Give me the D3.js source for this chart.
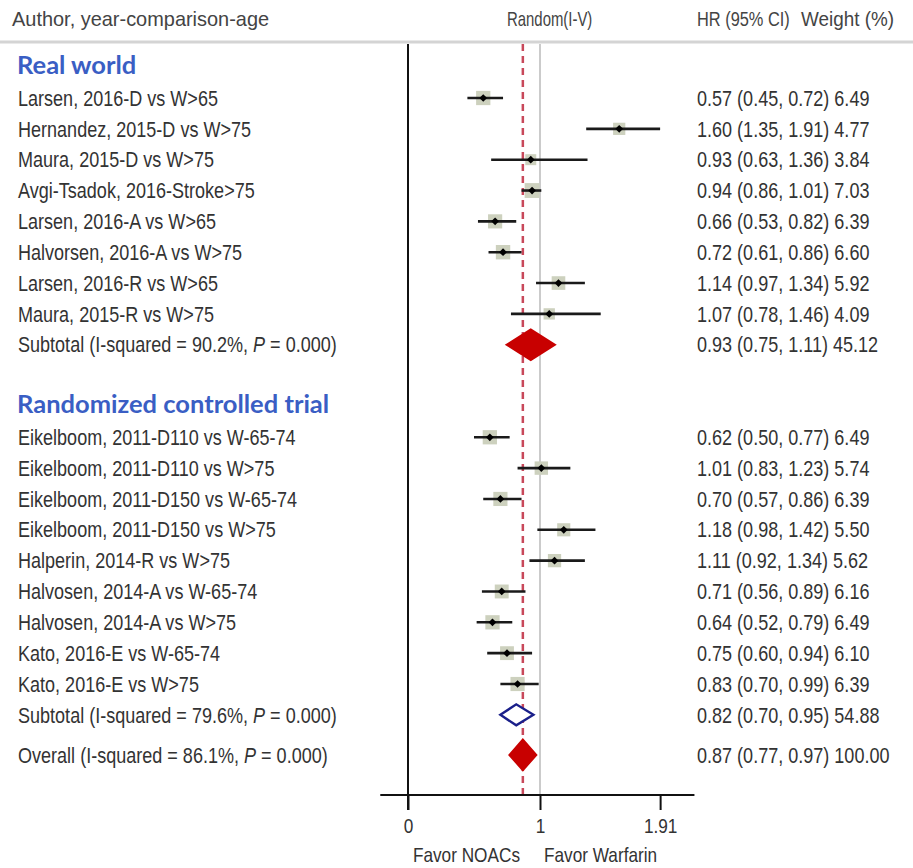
<!DOCTYPE html>
<html>
<head>
<meta charset="utf-8">
<script src="https://cdn.jsdelivr.net/npm/d3@7"></script>
<style>
  body { margin: 0; background: #fff; }
  text { font-family: "Liberation Sans", Arial, sans-serif; fill: #333; }
  .group-title { font-family: Lato, "Open Sans", sans-serif; font-weight: bold; fill: #3a5ec4; }
</style>
</head>
<body>
<div id="chart-area"></div>
<script>
// real world studies
const rwLabels = ['Larsen, 2016-D vs W>65', 'Hernandez, 2015-D vs W>75', 'Maura, 2015-D vs W>75',
  'Avgi-Tsadok, 2016-Stroke>75', 'Larsen, 2016-A vs W>65', 'Halvorsen, 2016-A vs W>75',
  'Larsen, 2016-R vs W>65', 'Maura, 2015-R vs W>75']
const rwHR = [0.57, 1.60, 0.93, 0.94, 0.66, 0.72, 1.14, 1.07]
const rwLow = [0.45, 1.35, 0.63, 0.86, 0.53, 0.61, 0.97, 0.78]
const rwHigh = [0.72, 1.91, 1.36, 1.01, 0.82, 0.86, 1.34, 1.46]
const rwWeight = [6.49, 4.77, 3.84, 7.03, 6.39, 6.60, 5.92, 4.09]

// randomized controlled trials
const rctLabels = ['Eikelboom, 2011-D110 vs W-65-74', 'Eikelboom, 2011-D110 vs W>75',
  'Eikelboom, 2011-D150 vs W-65-74', 'Eikelboom, 2011-D150 vs W>75', 'Halperin, 2014-R vs W>75',
  'Halvosen, 2014-A vs W-65-74', 'Halvosen, 2014-A vs W>75', 'Kato, 2016-E vs W-65-74', 'Kato, 2016-E vs W>75']
const rctHR = [0.62, 1.01, 0.70, 1.18, 1.11, 0.71, 0.64, 0.75, 0.83]
const rctLow = [0.50, 0.83, 0.57, 0.98, 0.92, 0.56, 0.52, 0.60, 0.70]
const rctHigh = [0.77, 1.23, 0.86, 1.42, 1.34, 0.89, 0.79, 0.94, 0.99]
const rctWeight = [6.49, 5.74, 6.39, 5.50, 5.62, 6.16, 6.49, 6.10, 6.39]

// pooled estimates: real world subtotal, rct subtotal, overall
const pooledNames = ['Subtotal', 'Subtotal', 'Overall']
const pooledISq = ['90.2%', '79.6%', '86.1%']
const pooledHR = [0.93, 0.82, 0.87]
const pooledLow = [0.75, 0.70, 0.77]
const pooledHigh = [1.11, 0.95, 0.97]
const pooledWeight = ['45.12', '54.88', '100.00']

const groupTitles = ['Real world', 'Randomized controlled trial']
const headers = ['Author, year-comparison-age', 'Random(I-V)', 'HR (95% CI)', 'Weight (%)']
const xTicks = [0, 1, 1.91]
const axisExtent = [-0.21, 2.17]
const overallHR = 0.87

const width = 913, height = 868
const squeeze = 0.82 // narrow font look

let svg = d3.select('#chart-area')
  .append('svg')
  .attr('width', width)
  .attr('height', height)

let x = d3.scaleLinear()
  .domain([0, 1])
  .range([408, 540])

// row index -> y
let y = d3.scaleLinear()
  .domain([1, 20])
  .range([98, 684])

const fmt = d3.format('.2f')
const narrow = (px, py, k) => 'translate(' + px + ',' + py + ') scale(' + (k || squeeze) + ',1)'

// build rows
let studies = []
rwLabels.forEach((l, i) => studies.push({label: l, hr: rwHR[i], lo: rwLow[i], hi: rwHigh[i], w: rwWeight[i], row: 1 + i}))
rctLabels.forEach((l, i) => studies.push({label: l, hr: rctHR[i], lo: rctLow[i], hi: rctHigh[i], w: rctWeight[i], row: 12 + i}))

const pooledRows = [9, 21, 22.3]
const pooledHalf = [15, 10.5, 15]
let pooled = pooledNames.map((n, i) => ({
  name: n, isq: pooledISq[i], hr: pooledHR[i], lo: pooledLow[i], hi: pooledHigh[i],
  w: pooledWeight[i], row: pooledRows[i], half: pooledHalf[i],
  fill: i === 1 ? '#fff' : '#c80000', stroke: i === 1 ? '#1a1f8a' : '#c80000'
}))

// header
const headerX = [12, 507, 697, 801]
const headerK = [0.95, 0.71, 0.78, 0.9]
svg.selectAll('.header')
  .data(headers)
  .enter().append('text')
  .attr('class', 'header')
  .attr('transform', (d, i) => narrow(headerX[i], 26, headerK[i]))
  .attr('font-size', 21)
  .style('fill', '#444')
  .text(d => d)

svg.append('line')
  .attr('x1', 0).attr('x2', width).attr('y1', 42).attr('y2', 42)
  .attr('stroke', '#d4d4d4').attr('stroke-width', 3)

// group titles
svg.selectAll('.group-title')
  .data(groupTitles)
  .enter().append('text')
  .attr('class', 'group-title')
  .attr('x', 17)
  .attr('y', (d, i) => y(i === 0 ? 0 : 11) - 2)
  .attr('dy', '0.35em')
  .attr('font-size', 25.5)
  .text(d => d)

// reference lines
svg.append('line')
  .attr('x1', x(1)).attr('x2', x(1)).attr('y1', 44).attr('y2', 795)
  .attr('stroke', '#a8a8a8').attr('stroke-width', 1.2)

svg.append('line')
  .attr('x1', x(overallHR)).attr('x2', x(overallHR)).attr('y1', 44).attr('y2', 795)
  .attr('stroke', '#c8485a').attr('stroke-width', 2.5).attr('stroke-dasharray', '7,5')

svg.append('line')
  .attr('x1', x(0)).attr('x2', x(0)).attr('y1', 44).attr('y2', 810)
  .attr('stroke', '#111').attr('stroke-width', 2)

// study rows
let rows = svg.selectAll('.study')
  .data(studies)
  .enter().append('g')
  .attr('class', 'study')
  .attr('transform', d => 'translate(0,' + y(d.row) + ')')

rows.append('text')
  .attr('transform', narrow(18, 0))
  .attr('dy', '0.35em').attr('font-size', 22)
  .text(d => d.label)

rows.append('rect')
  .attr('x', d => x(d.hr) - 2.8 * Math.sqrt(d.w))
  .attr('y', d => -2.8 * Math.sqrt(d.w))
  .attr('width', d => 5.6 * Math.sqrt(d.w))
  .attr('height', d => 5.6 * Math.sqrt(d.w))
  .attr('fill', '#cdd1be')

rows.append('line')
  .attr('x1', d => x(d.lo)).attr('x2', d => x(d.hi))
  .attr('stroke', '#1a1a1a').attr('stroke-width', 2.6)

rows.append('path')
  .attr('transform', d => 'translate(' + x(d.hr) + ',0) rotate(45)')
  .attr('d', d3.symbol(d3.symbolSquare, 30))
  .attr('fill', '#000')

rows.append('text')
  .attr('transform', narrow(697, 0))
  .attr('dy', '0.35em').attr('font-size', 22)
  .text(d => fmt(d.hr) + ' (' + fmt(d.lo) + ', ' + fmt(d.hi) + ') ' + fmt(d.w))

// pooled rows
let prow = svg.selectAll('.pooled')
  .data(pooled)
  .enter().append('g')
  .attr('class', 'pooled')
  .attr('transform', d => 'translate(0,' + y(d.row) + ')')

let plabel = prow.append('text')
  .attr('transform', narrow(18, 0))
  .attr('dy', '0.35em').attr('font-size', 22)
plabel.append('tspan').text(d => d.name + '  (I-squared = ' + d.isq + ', ')
plabel.append('tspan').style('font-style', 'italic').text('P')
plabel.append('tspan').text(' = 0.000)')

prow.append('path')
  .attr('d', d => 'M' + x(d.lo) + ',0 L' + x(d.hr) + ',' + (-d.half) + ' L' + x(d.hi) + ',0 L' + x(d.hr) + ',' + d.half + 'Z')
  .attr('fill', d => d.fill)
  .attr('stroke', d => d.stroke)
  .attr('stroke-width', 2.4)

prow.append('text')
  .attr('transform', narrow(697, 0))
  .attr('dy', '0.35em').attr('font-size', 22)
  .text(d => fmt(d.hr) + ' (' + fmt(d.lo) + ', ' + fmt(d.hi) + ') ' + d.w)

// x axis
let xAxisCall = d3.axisBottom(x)
  .tickValues(xTicks)
  .tickSize(15)
  .tickPadding(8)
  .tickFormat(d3.format(''))
let xAxisGroup = svg.append('g')
  .attr('transform', 'translate(0,795)')
  .call(xAxisCall)
xAxisGroup.select('.domain').remove()
xAxisGroup.selectAll('line').attr('stroke', '#111').attr('stroke-width', 2)
xAxisGroup.selectAll('text')
  .attr('transform', 'scale(' + squeeze + ',1)')
  .style('font-family', '"Liberation Sans", Arial, sans-serif')
  .style('font-size', '21px').style('fill', '#333')

xAxisGroup.append('line')
  .attr('x1', x(axisExtent[0])).attr('x2', x(axisExtent[1]))
  .attr('stroke', '#111').attr('stroke-width', 2)

svg.append('text')
  .attr('transform', narrow(x(1) - 20, 862))
  .attr('font-size', 21).attr('text-anchor', 'end')
  .text('Favor NOACs')
svg.append('text')
  .attr('transform', narrow(x(1) + 4, 862))
  .attr('font-size', 21)
  .text('Favor Warfarin')
</script>
</body>
</html>
